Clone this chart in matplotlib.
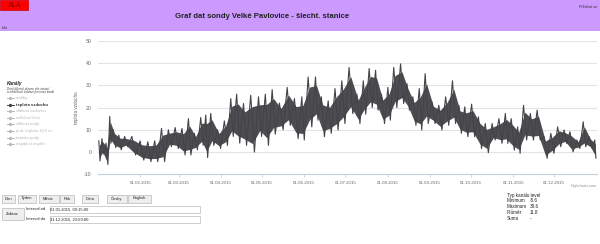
import matplotlib
matplotlib.use("Agg")
import matplotlib.pyplot as plt
from matplotlib.patches import Rectangle
from matplotlib.lines import Line2D
import numpy as np

plt.rcParams['font.family'] = ['Liberation Sans', 'DejaVu Sans']

# ---------------- data ----------------
seg_start = [0, 2, 5, 8, 10, 14, 18, 23, 29, 35, 40, 45, 50, 55, 60, 65, 69, 74,
             78, 81, 86, 91, 96, 100, 105, 110, 116, 121, 126, 131, 137, 142, 148,
             152, 158, 162, 167, 172, 177, 182, 188, 193, 197, 202, 206, 211, 215,
             220, 225, 229, 234, 238, 243, 248, 253, 258, 263, 267, 272, 277, 282,
             287, 292, 297, 301, 306, 310, 315, 320, 325, 330, 335, 340, 344, 349,
             354, 358, 363]
t_high = [5, 6, 4, 16, 10, 7.6, 7, 7, 5, 4.6, 5, 10.6, 10, 11, 10.6, 15, 8.4, 15.5,
          16.6, 17.3, 10, 14, 24, 26, 21.8, 25.5, 24.8, 26, 28, 22, 29, 24, 24.8,
          33.7, 33.7, 24.8, 23, 28.5, 32, 38, 26, 32, 37.5, 36.7, 26, 29, 38,
          39.6, 30.7, 24.8, 28.5, 35.2, 22.5, 21, 24.8, 32, 21, 20.3, 21.5, 15.8, 12.8,
          12.8, 15, 17.3, 15, 11.3, 21, 17.3, 18.8, 6.9, 8.4, 11.3, 9.9, 9.1, 5.4,
          13.6, 6.9, 5.4]
t_low = [-4, -1, -5.6, 4, 2, 1, 2.4, -1.3, -3.6, -4.3, -4.3, -4.3, 2.4, 1.6, -1.3, -1.3, 1, 3,
         -2.5, 3, 1.6, 3, 7, 4, 3, 0, 7, 3, 8, 10, 12, 6, 5.4,
         11.3, 14.3, 6.9, 8.4, 9.9, 12.8, 17.3, 12.8, 17, 20, 18.8, 12.8, 14.3, 20,
         21.8, 18.8, 12, 9.9, 12.8, 12.8, 9.9, 12, 12.8, 8.4, 6.9, 6.9, 1.6, -0.3,
         5.4, 3.9, 3.9, 0.9, -0.6, 5.4, 5.4, 5.4, -2.8, -0.6, 2.4, 3.9, 0.1, 1.6,
         2.4, 1.6, -2.8]
month_start_days = [31, 59, 90, 120, 151, 181, 212, 243, 273, 304, 334]
month_labels = ["01.02.2015", "01.03.2015", "01.04.2015", "01.05.2015", "01.06.2015",
                "01.07.2015", "01.08.2015", "01.09.2015", "01.10.2015", "01.11.2015",
                "01.12.2015"]
y_ticks = [-10, 0, 10, 20, 30, 40, 50]
legend_items = ["srážky", "teplota vzduchu", "vlhkost vzduchu", "ovlhčení listů",
                "vlhkost půdy", "půd. teplota 10,5 m", "teplota půdy", "napájecí napětí"]
active_item = "teplota vzduchu"
buttons = ["Den", "Týden", "Měsíc", "Rok", "Data", "Česky", "English"]
stats_labels = ["Minimum", "Maximum", "Průměr", "Suma"]
stats_values = ["-5.6", "39.6", "11.8", "-"]

# ---------------- figure ----------------
W, H = 600, 244
fig = plt.figure(figsize=(6, 2.44), dpi=100)
fig.patch.set_facecolor('white')

def fx(x):
    return x / W

def fy(y):
    return 1 - y / H

def rect(x0, y0, x1, y1, **kw):
    r = Rectangle((fx(x0), fy(y1)), (x1 - x0) / W, (y1 - y0) / H,
                  transform=fig.transFigure, **kw)
    fig.add_artist(r)

def txt(x, y, s, **kw):
    fig.text(fx(x), fy(y), s, **kw)

# header band
rect(0, 0, 600, 31, facecolor='#CC99FF', edgecolor='none', zorder=0)
rect(0, 0, 28, 10, facecolor='#FF0000', edgecolor='#CC0000', lw=0.5, zorder=1)
txt(14.5, 5.2, "ALA", fontsize=4.8, fontweight='bold', color='#990000',
    ha='center', va='center')
txt(262, 17, "Graf dat sondy Velké Pavlovice - šlecht. stanice", fontsize=5.6,
    fontweight='bold', color='#222222', ha='center', va='center')
txt(2, 28, "Info", fontsize=2.6, color='#333333', ha='left', va='center')
txt(597, 6.8, "Přihlásit se", fontsize=2.7, color='#333333', ha='right', va='center')

# ---------------- chart ----------------
x0p, x1p, ytop, ybot = 98, 596.6, 40.7, 174.3
ax = fig.add_axes([fx(x0p), fy(ybot), (x1p - x0p) / W, (ybot - ytop) / H])
ax.set_xlim(0, 365)
ax.set_ylim(-10, 50)
ax.patch.set_alpha(0)

seg_end = seg_start[1:] + [365]
mid = [(s + e) / 2 for s, e in zip(seg_start, seg_end)]
zx, zy = [], []
for s, e, hi, lo in zip(seg_start, seg_end, t_high, t_low):
    zx += [s + 0.3 * (e - s), s + 0.75 * (e - s)]
    zy += [hi, lo]
inner_hi = [lo + 0.8 * (hi - lo) for hi, lo in zip(t_high, t_low)]
inner_lo = [lo + 0.15 * (hi - lo) for hi, lo in zip(t_high, t_low)]
ax.fill_between(mid, inner_lo, inner_hi, color='#434348', lw=0, alpha=0.95, zorder=2)
ax.plot(zx, zy, color='#434348', lw=0.8, zorder=3)

ax.set_yticks(y_ticks)
ax.set_yticklabels([str(v) for v in y_ticks])
ax.set_xticks(month_start_days)
ax.set_xticklabels(month_labels)
ax.yaxis.grid(True, color='#E3E3E3', lw=0.8)
ax.set_axisbelow(True)
for s in ['top', 'right', 'left']:
    ax.spines[s].set_visible(False)
ax.spines['bottom'].set_color('#C0D0E0')
ax.spines['bottom'].set_linewidth(0.8)
ax.tick_params(axis='y', length=0, pad=4.5, labelsize=3.7, labelcolor='#666666')
ax.tick_params(axis='x', length=2.5, width=0.6, color='#C0D0E0', pad=2.5,
               labelsize=3.2, labelcolor='#666666')
ax.set_ylabel("teplota vzduchu", fontsize=3.3, color='#666666', labelpad=3.5)

txt(597, 186, "Highcharts.com", fontsize=2.7, color='#909090', ha='right', va='center')

# ---------------- legend ----------------
txt(7, 84, "Kanály", fontsize=3.4, fontweight='bold', fontstyle='italic',
    color='#222222', ha='left', va='center')
txt(7, 89, "Dvojí kliknutí přepne vše ostatní", fontsize=2.2, fontstyle='italic',
    color='#444444', ha='left', va='center')
txt(7, 92.5, "a zmáčknutí zobrazí jen tento kanál", fontsize=2.2, fontstyle='italic',
    color='#444444', ha='left', va='center')
for i, name in enumerate(legend_items):
    yy = 98 + i * 6.6
    act = name == active_item
    col = '#434348' if act else '#BBBBBB'
    fig.add_artist(Line2D([fx(7), fx(13.5)], [fy(yy), fy(yy)], color=col, lw=0.7,
                          transform=fig.transFigure))
    fig.add_artist(Line2D([fx(10.2)], [fy(yy)], color=col, marker='o', ms=1.4,
                          transform=fig.transFigure))
    txt(15.5, yy, name, fontsize=3.1, fontweight='bold' if act else 'normal',
        color='#333333' if act else '#B8B8B8', ha='left', va='center')

# ---------------- buttons ----------------
btn_pos = [(1.7, 15.5), (18, 36), (38.5, 58.5), (60, 73.5), (82, 98), (107, 126.5), (128, 150.5)]
for (bx0, bx1), lab in zip(btn_pos, buttons):
    rect(bx0, 194.5, bx1, 202.5, facecolor='#EEEEEE', edgecolor='#AAAAAA', lw=0.4)
    txt((bx0 + bx1) / 2, 198.5, lab, fontsize=3.0, color='#222222', ha='center', va='center')

rect(1.7, 208, 23.5, 220, facecolor='#EEEEEE', edgecolor='#AAAAAA', lw=0.4)
txt(12.6, 214, "Zobraz", fontsize=3.0, color='#222222', ha='center', va='center')
txt(26, 209.5, "Interval od", fontsize=3.0, color='#222222', ha='left', va='center')
txt(26, 219.5, "Interval do", fontsize=3.0, color='#222222', ha='left', va='center')
rect(49.5, 206, 200, 213.2, facecolor='white', edgecolor='#AAAAAA', lw=0.4)
rect(49.5, 216, 200, 223.2, facecolor='white', edgecolor='#AAAAAA', lw=0.4)
txt(50.5, 209.6, "01.01.2015, 00:15:00", fontsize=3.0, color='#222222', ha='left', va='center')
txt(50.5, 219.6, "31.12.2015, 23:59:00", fontsize=3.0, color='#222222', ha='left', va='center')

# ---------------- stats ----------------
txt(507, 195, "Typ kanálu level", fontsize=3.3, color='#222222', ha='left', va='center')
for i, (lab, val) in enumerate(zip(stats_labels, stats_values)):
    yy = 201 + i * 6
    txt(507, yy, lab, fontsize=3.3, color='#222222', ha='left', va='center')
    txt(530, yy, val, fontsize=3.3, color='#222222', ha='left', va='center')

fig.savefig("out.png", dpi=100)
